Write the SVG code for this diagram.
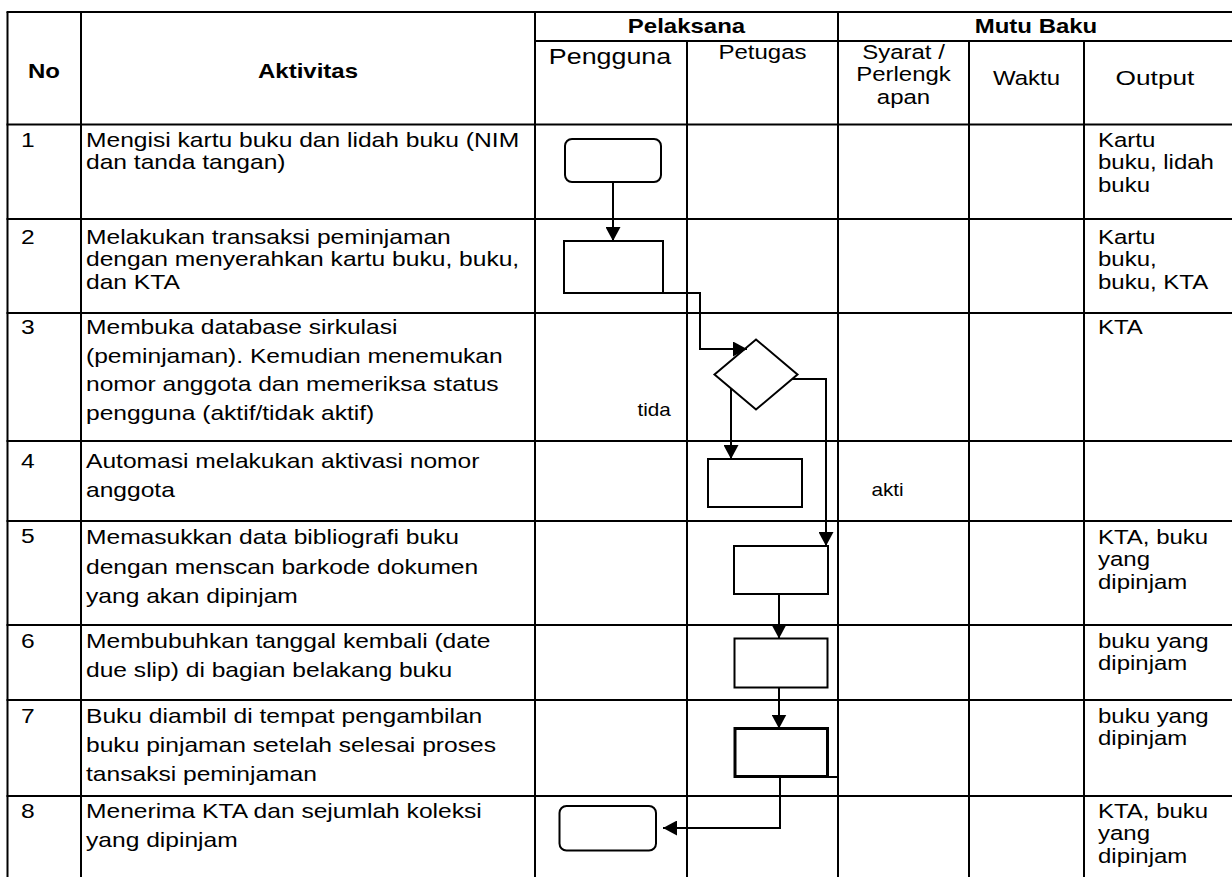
<svg xmlns="http://www.w3.org/2000/svg" width="1232" height="877" viewBox="0 0 1232 877">
<style>
.t{font-family:"Liberation Sans",Arial,sans-serif;font-size:20.5px;fill:#000}
.b{font-weight:bold}
.m{text-anchor:middle}
.s{font-size:18px}
.grid line{stroke:#000;stroke-width:2}
.shape{fill:#fff;stroke:#000;stroke-width:2}
.conn path{fill:none;stroke:#000;stroke-width:2}
</style>
<defs>
<marker id="arr" markerUnits="userSpaceOnUse" markerWidth="14" markerHeight="15" refX="14" refY="7.5" orient="auto">
<path d="M0,0 L14,7.5 L0,15 Z" fill="#000"/>
</marker>
</defs>
<rect width="1232" height="877" fill="#fff"/>
<g class="grid" id="table">
<line x1="7.5" y1="12" x2="7.5" y2="877"/>
<line x1="81" y1="12" x2="81" y2="877"/>
<line x1="535" y1="12" x2="535" y2="877"/>
<line x1="687" y1="41" x2="687" y2="877"/>
<line x1="838" y1="12" x2="838" y2="877"/>
<line x1="969" y1="41" x2="969" y2="877"/>
<line x1="1084" y1="41" x2="1084" y2="877"/>
<line x1="6.5" y1="12" x2="1232" y2="12"/>
<line x1="535" y1="41" x2="1232" y2="41"/>
<line x1="6.5" y1="124.5" x2="1232" y2="124.5"/>
<line x1="6.5" y1="219" x2="1232" y2="219"/>
<line x1="6.5" y1="313" x2="1232" y2="313"/>
<line x1="6.5" y1="441" x2="1232" y2="441"/>
<line x1="6.5" y1="521" x2="1232" y2="521"/>
<line x1="6.5" y1="625" x2="1232" y2="625"/>
<line x1="6.5" y1="700" x2="1232" y2="700"/>
<line x1="6.5" y1="796" x2="1232" y2="796"/>
</g>
<g id="header">
<text class="t b m" transform="translate(44,78) scale(1.17,1)">No</text>
<text class="t b m" transform="translate(308,78) scale(1.17,1)">Aktivitas</text>
<text class="t b m" transform="translate(686.5,33) scale(1.17,1)">Pelaksana</text>
<text class="t b m" transform="translate(1036,33) scale(1.17,1)">Mutu Baku</text>
<text class="t m" style="font-size:22px" transform="translate(610,64) scale(1.22,1)">Pengguna</text>
<text class="t m" transform="translate(762.5,58.5) scale(1.17,1)">Petugas</text>
<text class="t m" transform="translate(903.5,59) scale(1.17,1)"><tspan x="0" y="0">Syarat /</tspan><tspan x="0" y="22.5">Perlengk</tspan><tspan x="0" y="45.5">apan</tspan></text>
<text class="t m" transform="translate(1026.5,85) scale(1.17,1)">Waktu</text>
<text class="t m" style="font-size:21px" transform="translate(1155,85) scale(1.25,1)">Output</text>
</g>
<g id="numbers">
<text class="t" transform="translate(21,146.5) scale(1.2,1)">1</text>
<text class="t" transform="translate(21,244) scale(1.2,1)">2</text>
<text class="t" transform="translate(21,334) scale(1.2,1)">3</text>
<text class="t" transform="translate(21,468) scale(1.2,1)">4</text>
<text class="t" transform="translate(21,543) scale(1.2,1)">5</text>
<text class="t" transform="translate(21,648) scale(1.2,1)">6</text>
<text class="t" transform="translate(21,723) scale(1.2,1)">7</text>
<text class="t" transform="translate(21,818) scale(1.2,1)">8</text>
</g>
<g id="activities">
<text class="t" transform="translate(86,146.5) scale(1.2,1)"><tspan x="0" y="0">Mengisi kartu buku dan lidah buku (NIM</tspan><tspan x="0" y="22.5">dan tanda tangan)</tspan></text>
<text class="t" transform="translate(86,244) scale(1.2,1)"><tspan x="0" y="0">Melakukan transaksi peminjaman</tspan><tspan x="0" y="22.5">dengan menyerahkan kartu buku, buku,</tspan><tspan x="0" y="45">dan KTA</tspan></text>
<text class="t" transform="translate(86,334) scale(1.2,1)"><tspan x="0" y="0">Membuka database sirkulasi</tspan><tspan x="0" y="29">(peminjaman). Kemudian menemukan</tspan><tspan x="0" y="57.5">nomor anggota dan memeriksa status</tspan><tspan x="0" y="86">pengguna (aktif/tidak aktif)</tspan></text>
<text class="t" transform="translate(86,468) scale(1.2,1)"><tspan x="0" y="0">Automasi melakukan aktivasi nomor</tspan><tspan x="0" y="29">anggota</tspan></text>
<text class="t" transform="translate(86,544) scale(1.2,1)"><tspan x="0" y="0">Memasukkan data bibliografi buku</tspan><tspan x="0" y="30">dengan menscan barkode dokumen</tspan><tspan x="0" y="59.5">yang akan dipinjam</tspan></text>
<text class="t" transform="translate(86,648) scale(1.2,1)"><tspan x="0" y="0">Membubuhkan tanggal kembali (date</tspan><tspan x="0" y="29.5">due slip) di bagian belakang buku</tspan></text>
<text class="t" transform="translate(86,723) scale(1.2,1)"><tspan x="0" y="0">Buku diambil di tempat pengambilan</tspan><tspan x="0" y="29">buku pinjaman setelah selesai proses</tspan><tspan x="0" y="58">tansaksi peminjaman</tspan></text>
<text class="t" transform="translate(86,818) scale(1.2,1)"><tspan x="0" y="0">Menerima KTA dan sejumlah koleksi</tspan><tspan x="0" y="29.5">yang dipinjam</tspan></text>
</g>
<g id="outputs">
<text class="t" transform="translate(1098,147) scale(1.17,1)"><tspan x="0" y="0">Kartu</tspan><tspan x="0" y="22.5">buku, lidah</tspan><tspan x="0" y="45">buku</tspan></text>
<text class="t" transform="translate(1098,244) scale(1.17,1)"><tspan x="0" y="0">Kartu</tspan><tspan x="0" y="22.5">buku,</tspan><tspan x="0" y="45">buku, KTA</tspan></text>
<text class="t" transform="translate(1098,334) scale(1.17,1)">KTA</text>
<text class="t" transform="translate(1098,544) scale(1.17,1)"><tspan x="0" y="0">KTA, buku</tspan><tspan x="0" y="22.5">yang</tspan><tspan x="0" y="45">dipinjam</tspan></text>
<text class="t" transform="translate(1098,648) scale(1.17,1)"><tspan x="0" y="0">buku yang</tspan><tspan x="0" y="22.5">dipinjam</tspan></text>
<text class="t" transform="translate(1098,723) scale(1.17,1)"><tspan x="0" y="0">buku yang</tspan><tspan x="0" y="22.5">dipinjam</tspan></text>
<text class="t" transform="translate(1098,818) scale(1.17,1)"><tspan x="0" y="0">KTA, buku</tspan><tspan x="0" y="22.5">yang</tspan><tspan x="0" y="45">dipinjam</tspan></text>
</g>
<g id="n1"><rect class="shape" x="565" y="139" width="96" height="43" rx="7"/></g>
<g id="n2"><rect class="shape" x="564" y="241" width="99" height="52"/></g>
<g id="n3"><polygon class="shape" points="756,339.5 797.5,374.5 756,409.5 714.5,374.5"/></g>
<g id="n4"><rect class="shape" x="708" y="459" width="94" height="48"/></g>
<g id="n5"><rect class="shape" x="734" y="546" width="94" height="48"/></g>
<g id="n6"><rect class="shape" x="734.5" y="638.5" width="93" height="49"/></g>
<g id="n7"><rect class="shape" x="735" y="728.5" width="92.5" height="48" style="stroke-width:3"/></g>
<g id="n8"><rect class="shape" x="559.5" y="806" width="96.5" height="44.5" rx="7"/></g>
<g class="conn" id="connectors">
<path d="M613,182 L613,241" marker-end="url(#arr)"/>
<path d="M652,293 L700,293 L700,349 L747,349" marker-end="url(#arr)"/>
<path d="M731,388.5 L731,459" marker-end="url(#arr)"/>
<path d="M792,379 L826,379 L826,546" marker-end="url(#arr)"/>
<path d="M779,594 L779,638.5" marker-end="url(#arr)"/>
<path d="M779,687.5 L779,728.5" marker-end="url(#arr)"/>
<path d="M827,777 L838,777"/>
<path d="M780,778 L780,828 L663,828" marker-end="url(#arr)"/>
</g>
<g id="labels">
<text class="t s" transform="translate(637.5,416) scale(1.15,1)">tida</text>
<text class="t s" transform="translate(871.5,496) scale(1.15,1)">akti</text>
</g>
</svg>
